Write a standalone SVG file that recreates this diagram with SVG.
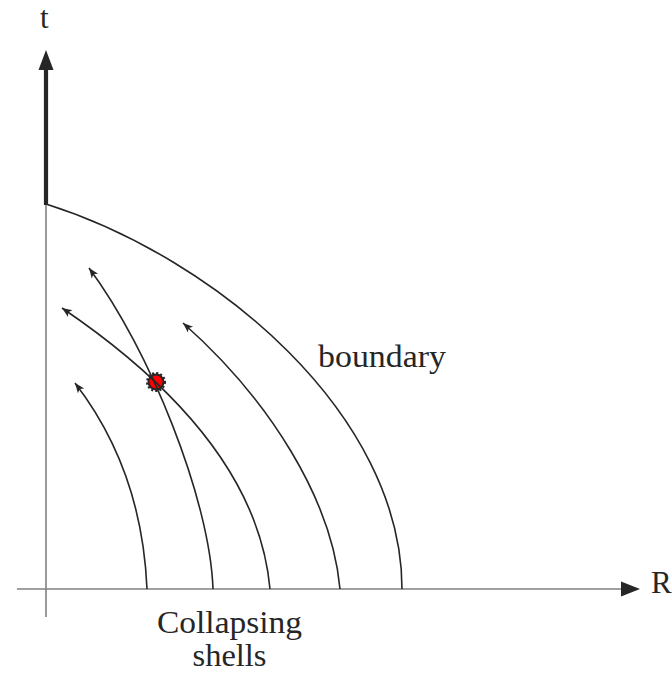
<svg xmlns="http://www.w3.org/2000/svg" width="672" height="673" viewBox="0 0 672 673">
  <style>
    .lbl { font-family: 'Liberation Serif', 'DejaVu Serif', 'Times New Roman', serif; font-size: 31px; fill: #262626; }
    .axis { stroke: #808080; stroke-width: 1.6; fill: none; }
    .shell { stroke: #262626; stroke-width: 1.6; fill: none; }
  </style>
  <defs>
    <marker id="ah" markerUnits="userSpaceOnUse" markerWidth="14" markerHeight="12" viewBox="-11 -6 12 12" refX="0" refY="0" orient="auto">
      <path d="M0,0 L-10,-4 L-7.5,0 L-10,4 Z" fill="#262626"/>
    </marker>
  </defs>

  <g id="axes">
    <line class="axis" x1="46" y1="617" x2="46" y2="204"/>
    <line x1="46" y1="205" x2="46" y2="66" stroke="#262626" stroke-width="4.2"/>
    <path d="M46,50 L53.5,70 L38.5,70 Z" fill="#262626"/>
    <line class="axis" x1="17" y1="589" x2="624" y2="589"/>
    <path d="M640,589 L621,581.5 L621,596.5 Z" fill="#262626"/>
  </g>

  <g id="labels">
    <text class="lbl" x="40" y="28" font-size="29">t</text>
    <text class="lbl" x="651" y="593">R</text>
    <text class="lbl" x="318" y="367" textLength="128" lengthAdjust="spacingAndGlyphs">boundary</text>
    <text class="lbl" x="229.5" y="633" font-size="30" text-anchor="middle" textLength="145" lengthAdjust="spacingAndGlyphs">Collapsing</text>
    <text class="lbl" x="229.5" y="666" font-size="29" text-anchor="middle" textLength="74" lengthAdjust="spacingAndGlyphs">shells</text>
  </g>

  <g id="event">
    <circle cx="156" cy="382" r="8.5" fill="#262626" stroke="#262626" stroke-width="3" stroke-dasharray="2 2"/>
    <circle cx="156" cy="382" r="6.5" fill="#ff0000"/>
  </g>

  <g id="connectors">
    <path id="boundary" class="shell" d="M46,204 C217,258 402,415 402,589"/>
    <path id="shell1" class="shell" marker-end="url(#ah)" d="M147,589 Q142,470 75,383"/>
    <path id="shell2" class="shell" marker-end="url(#ah)" d="M213,589 C210,500 150,350 89,268"/>
    <path id="shell3" class="shell" marker-end="url(#ah)" d="M270,589 C262,500 205,405 62,308"/>
    <path id="shell4" class="shell" marker-end="url(#ah)" d="M340,589 C332,500 270,400 183,323"/>
  </g>
</svg>
